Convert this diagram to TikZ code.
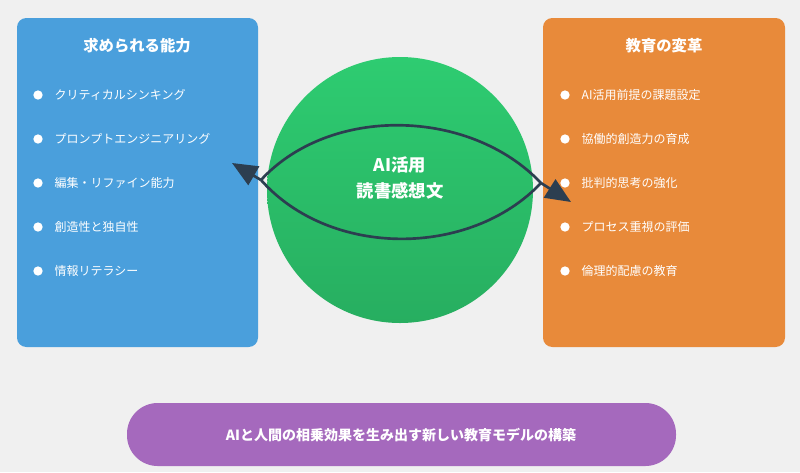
\documentclass[tikz,border=0pt]{standalone}
\usepackage{fontspec}
\setmainfont{Noto Sans CJK JP}
\usetikzlibrary{arrows.meta,shadings}
\definecolor{bg}{HTML}{F0F0F0}
\definecolor{bluebox}{HTML}{4A9FDC}
\definecolor{orangebox}{HTML}{E88A3A}
\definecolor{greenA}{HTML}{2ECC71}
\definecolor{greenB}{HTML}{27AE60}
\definecolor{purp}{HTML}{A569BD}
\definecolor{navy}{HTML}{2C3E50}
\tikzset{
  panel/.style={rounded corners=7pt,draw=none},
  ttl/.style={text=white,font=\bfseries\fontsize{11.5}{13}\selectfont},
  item/.style={text=white,anchor=west,font=\fontsize{9}{11}\selectfont},
  dot/.style={circle,fill=white,inner sep=0pt,minimum size=7pt},
  conn/.style={navy,line width=2pt},
  tip/.style={navy,line width=2pt,-{Triangle[length=19pt,width=16pt]}}
}
\begin{document}
\begin{tikzpicture}[x=0.75pt,y=-0.75pt]
\fill[bg] (0,0) rectangle (800,472);
\useasboundingbox (0,0) rectangle (800,472);
\fill[panel,bluebox] (17,18) rectangle (258,347);
\fill[panel,orangebox] (543,18) rectangle (785,347);
\shade[top color=greenA,bottom color=greenB] (400,190) circle (99.75pt);
\node[ttl] (lt) at (137,46) {求められる能力};
\node[ttl] (rt) at (664,46) {教育の変革};
\foreach \t [count=\i] in {クリティカルシンキング,プロンプトエンジニアリング,編集・リファイン能力,創造性と独自性,情報リテラシー}{
  \node[dot] (ld\i) at (38,51+44*\i) {};
  \node[item] (li\i) at (50,51+44*\i) {\t};
}
\foreach \t [count=\i] in {AI活用前提の課題設定,協働的創造力の育成,批判的思考の強化,プロセス重視の評価,倫理的配慮の教育}{
  \node[dot] (rd\i) at (565,51+44*\i) {};
  \node[item] (ri\i) at (577,51+44*\i) {\t};
}
\node[ttl,font=\bfseries\fontsize{13}{20}\selectfont,align=center] (c) at (400,178) {AI活用\\読書感想文};
\coordinate (Lm) at (261,180);
\coordinate (Rm) at (541,183);
\coordinate (L) at (232,163);
\coordinate (R) at (571,202);
\draw[conn] (Lm) .. controls (330,105) and (470,108) .. (Rm);
\draw[conn] (Lm) .. controls (330,258) and (470,258) .. (Rm);
\draw[tip] (Lm) -- (L);
\draw[tip] (Rm) -- (R);
\fill[purp,rounded corners=23pt] (127,403) rectangle (676,466);
\node[ttl,font=\bfseries\fontsize{10.5}{12}\selectfont] (b) at (401,435) {AIと人間の相乗効果を生み出す新しい教育モデルの構築};
\end{tikzpicture}
\end{document}
